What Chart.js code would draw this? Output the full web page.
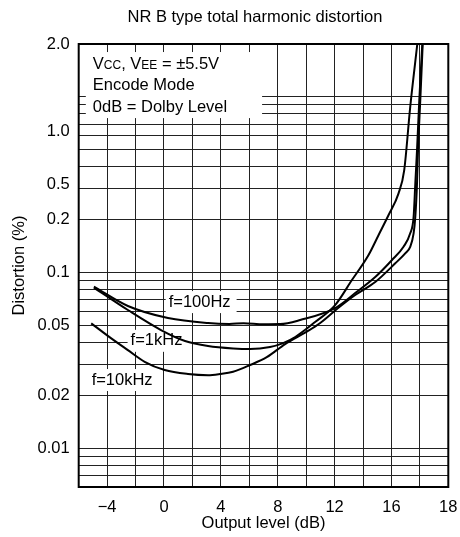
<!DOCTYPE html>
<html>
<head>
<meta charset="utf-8">
<script src="https://cdn.jsdelivr.net/npm/chart.js@4.4.0/dist/chart.umd.min.js"></script>
<style>
  html, body { margin: 0; padding: 0; background: #fff; }
  #wrap { width: 460px; height: 537px; }
</style>
</head>
<body>
<div id="wrap"><canvas id="thd"></canvas></div>
<script>
// Curves: output level (dB) and THD (%)
const level100Hz = [-4.93, -2.54, 0.28, 3.10, 4.6, 5.6, 7.0, 8.17, 9.58, 12.04, 13.45, 14.86, 16.04, 16.85, 17.32, 17.56, 17.68, 17.80, 17.96, 18.17];
const thd100Hz = [0.083, 0.0644, 0.055, 0.0515, 0.0509, 0.0514, 0.0507, 0.0508, 0.0536, 0.0627, 0.0763, 0.0941, 0.1177, 0.140, 0.167, 0.2076, 0.322, 0.498, 0.959, 2.0];

const level1kHz = [-4.93, -2.54, -0.21, 1.48, 3.10, 4.86, 6.06, 7.46, 8.38, 9.23, 10.63, 12.04, 13.22, 14.39, 15.09, 15.80, 16.50, 16.90, 17.32, 17.82];
const thd1kHz = [0.082, 0.0611, 0.047, 0.0407, 0.0381, 0.0369, 0.0366, 0.0376, 0.0396, 0.0429, 0.0522, 0.0652, 0.0905, 0.1256, 0.163, 0.2123, 0.282, 0.383, 0.875, 2.0];

const level10kHz = [-5.12, -3.71, -2.54, -1.36, 0.05, 1.69, 3.10, 3.94, 4.86, 6.06, 7.23, 8.52, 10.05, 10.99, 12.25, 13.45, 14.86, 16.27, 16.97, 17.32, 17.56, 17.68, 17.80, 17.87, 18.03, 18.20];
const thd10kHz = [0.0513, 0.0421, 0.0361, 0.0310, 0.0278, 0.0264, 0.0260, 0.0264, 0.0272, 0.0297, 0.0329, 0.0391, 0.046, 0.0515, 0.0627, 0.0744, 0.0882, 0.1127, 0.1285, 0.140, 0.167, 0.2076, 0.322, 0.498, 0.959, 2.0];

const curveNames = ['f=100Hz', 'f=1kHz', 'f=10kHz'];

// axes
const xGrid = [-6, -4, -2, 0, 2, 4, 6, 8, 10, 12, 14, 16, 18, 20];
const xTickAt = [-4, 0, 4, 8, 12, 16, 20];
const xTickText = ['−4', '0', '4', '8', '12', '16', '18']; // the scan prints 18 on the right edge
const yGrid = [0.006, 0.007, 0.008, 0.009, 0.01, 0.02, 0.03, 0.04, 0.05, 0.06, 0.07, 0.08, 0.09,
               0.1, 0.2, 0.3, 0.4, 0.5, 0.6, 0.7, 0.8, 0.9, 1.0, 2.0];
// "1.0" and "0.5" sit off their gridlines in the scan; keep them where they are printed
const yTickAt = [2.0, 0.633, 0.315, 0.2, 0.1, 0.05, 0.02, 0.01];
const yTickText = ['2.0', '1.0', '0.5', '0.2', '0.1', '0.05', '0.02', '0.01'];

const chartTitle = 'NR B type total harmonic distortion';
const noteLines = ['Encode Mode', '0dB = Dolby Level'];
const supplyParts = [['V', false], ['CC', true], [', V', false], ['EE', true], [' = ±5.5V', false]];

const FONT = "'Liberation Sans', Arial, Helvetica, sans-serif";
const BIG = 16.5, SMALL = 12;
Chart.defaults.font.family = FONT;
Chart.defaults.font.size = BIG;
Chart.defaults.color = '#000';

// where notes go, in data units
const noteBox = [-5.5, 1.8, 6.9, 0.757];
const curveNameAt = [[0.33, 0.0678], [-2.35, 0.0408], [-5.09, 0.0244]];

const frameAndNotes = {
    id: 'frameAndNotes',
    beforeDatasetsDraw(chart) {
        const { ctx, scales: { x, y } } = chart;
        ctx.save();
        const bx = x.getPixelForValue(noteBox[0]);
        const by = y.getPixelForValue(noteBox[1]);
        const bw = x.getPixelForValue(noteBox[2]) - bx;
        const bh = y.getPixelForValue(noteBox[3]) - by;
        ctx.fillStyle = '#fff';
        ctx.fillRect(bx, by, bw, bh);

        ctx.fillStyle = '#000';
        ctx.textBaseline = 'alphabetic';
        let tx = bx + 7;
        const base = by + 16.7;
        supplyParts.forEach(([text, small]) => {
            ctx.font = (small ? SMALL : BIG) + 'px ' + FONT;
            ctx.fillText(text, tx, base);
            tx += ctx.measureText(text).width;
        });
        ctx.font = BIG + 'px ' + FONT;
        noteLines.forEach((t, i) => ctx.fillText(t, bx + 7, base + 21.7 * (i + 1)));

        // curve names on a white patch
        ctx.textBaseline = 'middle';
        curveNames.forEach((name, i) => {
            const px = x.getPixelForValue(curveNameAt[i][0]);
            const py = y.getPixelForValue(curveNameAt[i][1]);
            const w = ctx.measureText(name).width;
            ctx.fillStyle = '#fff';
            ctx.fillRect(px - 3, py - 11, w + 9, 22);
            ctx.fillStyle = '#000';
            ctx.fillText(name, px, py);
        });
        ctx.restore();
    },
    afterDraw(chart) {
        const { ctx, chartArea: a } = chart;
        ctx.save();
        ctx.lineWidth = 2;
        ctx.strokeStyle = '#000';
        ctx.strokeRect(a.left, a.top, a.right - a.left, a.bottom - a.top);
        ctx.font = BIG + 'px ' + FONT;
        ctx.fillStyle = '#000';
        ctx.textAlign = 'center';
        ctx.textBaseline = 'middle';
        ctx.fillText(chartTitle, 255, 17);
        ctx.restore();
    }
};

const toPoints = (xs, ys) => xs.map((v, i) => ({ x: v, y: ys[i] }));

new Chart(document.getElementById('thd'), {
    type: 'scatter',
    data: {
        datasets: [
            { label: curveNames[0], data: toPoints(level100Hz, thd100Hz) },
            { label: curveNames[1], data: toPoints(level1kHz, thd1kHz) },
            { label: curveNames[2], data: toPoints(level10kHz, thd10kHz) }
        ].map(ds => ({
            ...ds,
            showLine: true,
            borderColor: '#000',
            borderWidth: 2,
            pointRadius: 0,
            cubicInterpolationMode: 'monotone'
        }))
    },
    options: {
        responsive: true,
        maintainAspectRatio: false,
        animation: false,
        layout: { padding: { top: 44, right: 11.7, left: 0, bottom: 0 } },
        plugins: {
            legend: { display: false },
            tooltip: { enabled: false },
            title: { display: false }
        },
        scales: {
            x: {
                type: 'linear',
                min: -6,
                max: 20,
                afterBuildTicks: s => { s.ticks = xGrid.map(v => ({ value: v })); },
                afterFit: s => { s.height = 50; s.paddingLeft = 0; s.paddingRight = 0; },
                grid: { color: '#222', lineWidth: 1, drawTicks: false },
                border: { display: false },
                ticks: {
                    padding: 11,
                    autoSkip: false,
                    maxRotation: 0,
                    callback: v => { const i = xTickAt.indexOf(v); return i < 0 ? '' : xTickText[i]; }
                },
                title: { display: true, text: 'Output level (dB)', padding: { top: 0, bottom: 4 } }
            },
            y: {
                type: 'logarithmic',
                min: 0.006,
                max: 2,
                afterBuildTicks: s => {
                    const vals = [...new Set([...yGrid, ...yTickAt])].sort((a, b) => a - b);
                    s.ticks = vals.map(v => ({ value: v }));
                },
                afterFit: s => { s.width = 78.7; },
                grid: {
                    lineWidth: 1,
                    drawTicks: false,
                    color: c => (c.tick && yGrid.includes(c.tick.value)) ? '#222' : 'rgba(0,0,0,0)'
                },
                border: { display: false },
                ticks: {
                    padding: 9,
                    autoSkip: false,
                    callback: v => { const i = yTickAt.indexOf(v); return i < 0 ? '' : yTickText[i]; }
                },
                title: { display: true, text: 'Distortion (%)', padding: { top: 10, bottom: 0 } }
            }
        }
    },
    plugins: [frameAndNotes]
});
</script>
</body>
</html>
